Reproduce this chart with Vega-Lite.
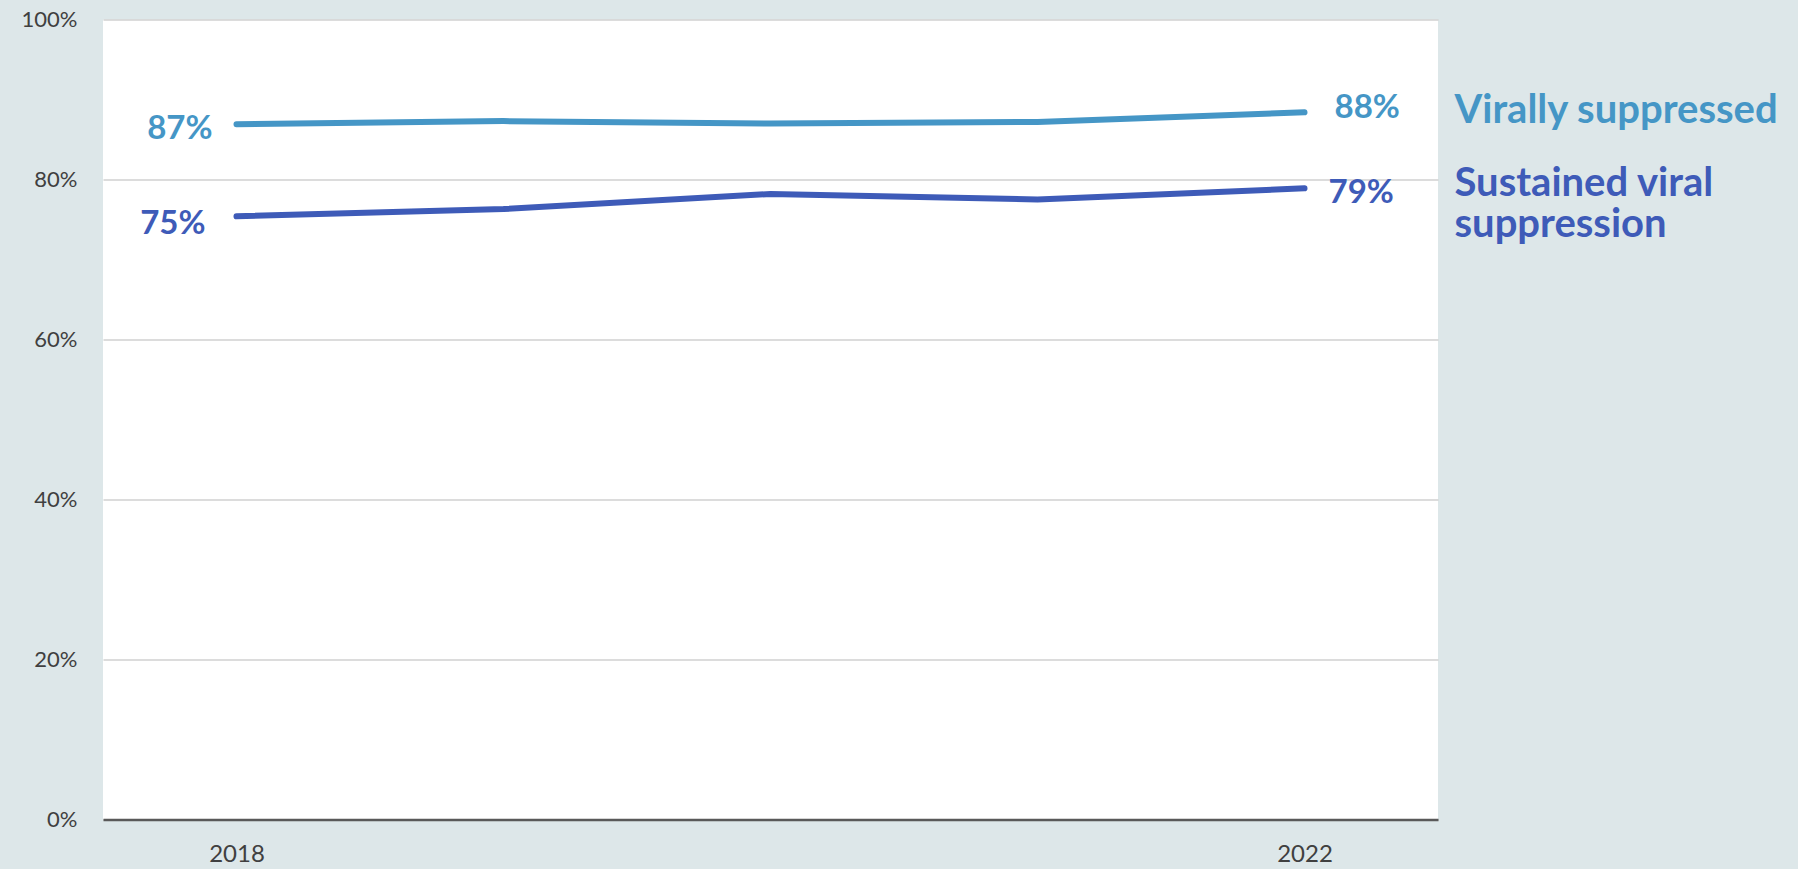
{
  "$schema": "https://vega.github.io/schema/vega-lite/v6.json",
  "autosize": {"type": "none"},
  "padding": {"left": 103, "top": 19.5, "right": 360, "bottom": 49.5},
  "width": 1335,
  "height": 800,
  "background": "#DDE7E9",
  "config": {"view": {"fill": "white", "stroke": null}, "font": "Lato"},
  "data": {
    "values": [
      {"year": 2018, "series": "Virally suppressed", "value": 0.869},
      {"year": 2019, "series": "Virally suppressed", "value": 0.873},
      {"year": 2020, "series": "Virally suppressed", "value": 0.870},
      {"year": 2021, "series": "Virally suppressed", "value": 0.872},
      {"year": 2022, "series": "Virally suppressed", "value": 0.884},
      {"year": 2018, "series": "Sustained viral suppression", "value": 0.754},
      {"year": 2019, "series": "Sustained viral suppression", "value": 0.763},
      {"year": 2020, "series": "Sustained viral suppression", "value": 0.782},
      {"year": 2021, "series": "Sustained viral suppression", "value": 0.775},
      {"year": 2022, "series": "Sustained viral suppression", "value": 0.789}
    ]
  },
  "encoding": {
    "x": {
      "field": "year",
      "type": "ordinal",
      "scale": {"type": "point", "padding": 0.5},
      "axis": {
        "title": null,
        "labelAngle": 0,
        "ticks": false,
        "grid": false,
        "domainColor": "#595959",
        "domainWidth": 2.5,
        "labelExpr": "datum.value == 2018 || datum.value == 2022 ? datum.label : ''",
        "labelFontSize": 24,
        "labelColor": "#404040",
        "labelPadding": 23
      }
    },
    "y": {
      "field": "value",
      "type": "quantitative",
      "scale": {"domain": [0, 1]},
      "axis": {
        "title": null,
        "format": ".0%",
        "values": [0, 0.2, 0.4, 0.6, 0.8, 1],
        "ticks": false,
        "domain": false,
        "gridColor": "#D0D0D0",
        "gridWidth": 1.5,
        "labelFontSize": 22,
        "labelColor": "#404040",
        "labelPadding": 26
      }
    },
    "color": {
      "field": "series",
      "type": "nominal",
      "scale": {"domain": ["Virally suppressed", "Sustained viral suppression"], "range": ["#4596C6", "#3E5BB8"]},
      "legend": null
    }
  },
  "layer": [
    {"mark": {"type": "line", "strokeWidth": 6, "strokeCap": "round", "strokeJoin": "round"}},
    {
      "transform": [{"filter": "datum.year == 2018 && datum.series == 'Virally suppressed'"}],
      "mark": {"type": "text", "align": "right", "baseline": "middle", "dx": -24, "dy": 5, "fontSize": 33, "fontWeight": "bold"},
      "encoding": {"text": {"field": "value", "type": "quantitative", "format": ".0%"}}
    },
    {
      "transform": [{"filter": "datum.year == 2018 && datum.series == 'Sustained viral suppression'"}],
      "mark": {"type": "text", "align": "right", "baseline": "middle", "dx": -31, "dy": 7.5, "fontSize": 33, "fontWeight": "bold"},
      "encoding": {"text": {"field": "value", "type": "quantitative", "format": ".0%"}}
    },
    {
      "transform": [{"filter": "datum.year == 2022 && datum.series == 'Virally suppressed'"}],
      "mark": {"type": "text", "align": "left", "baseline": "middle", "dx": 30, "dy": -4, "fontSize": 33, "fontWeight": "bold"},
      "encoding": {"text": {"field": "value", "type": "quantitative", "format": ".0%"}}
    },
    {
      "transform": [{"filter": "datum.year == 2022 && datum.series == 'Sustained viral suppression'"}],
      "mark": {"type": "text", "align": "left", "baseline": "middle", "dx": 24, "dy": 5, "fontSize": 33, "fontWeight": "bold"},
      "encoding": {"text": {"field": "value", "type": "quantitative", "format": ".0%"}}
    },
    {
      "transform": [{"filter": "datum.year == 2022 && datum.series == 'Virally suppressed'"}],
      "mark": {"type": "text", "align": "left", "baseline": "alphabetic", "dx": 150, "dy": 11, "fontSize": 40, "fontWeight": "bold"},
      "encoding": {"text": {"field": "series", "type": "nominal"}}
    },
    {
      "transform": [{"filter": "datum.year == 2022 && datum.series == 'Sustained viral suppression'"}],
      "mark": {"type": "text", "align": "left", "baseline": "alphabetic", "dx": 150, "dy": 8, "fontSize": 40, "fontWeight": "bold", "lineHeight": 41},
      "encoding": {"text": {"value": ["Sustained viral", "suppression"]}}
    }
  ]
}
